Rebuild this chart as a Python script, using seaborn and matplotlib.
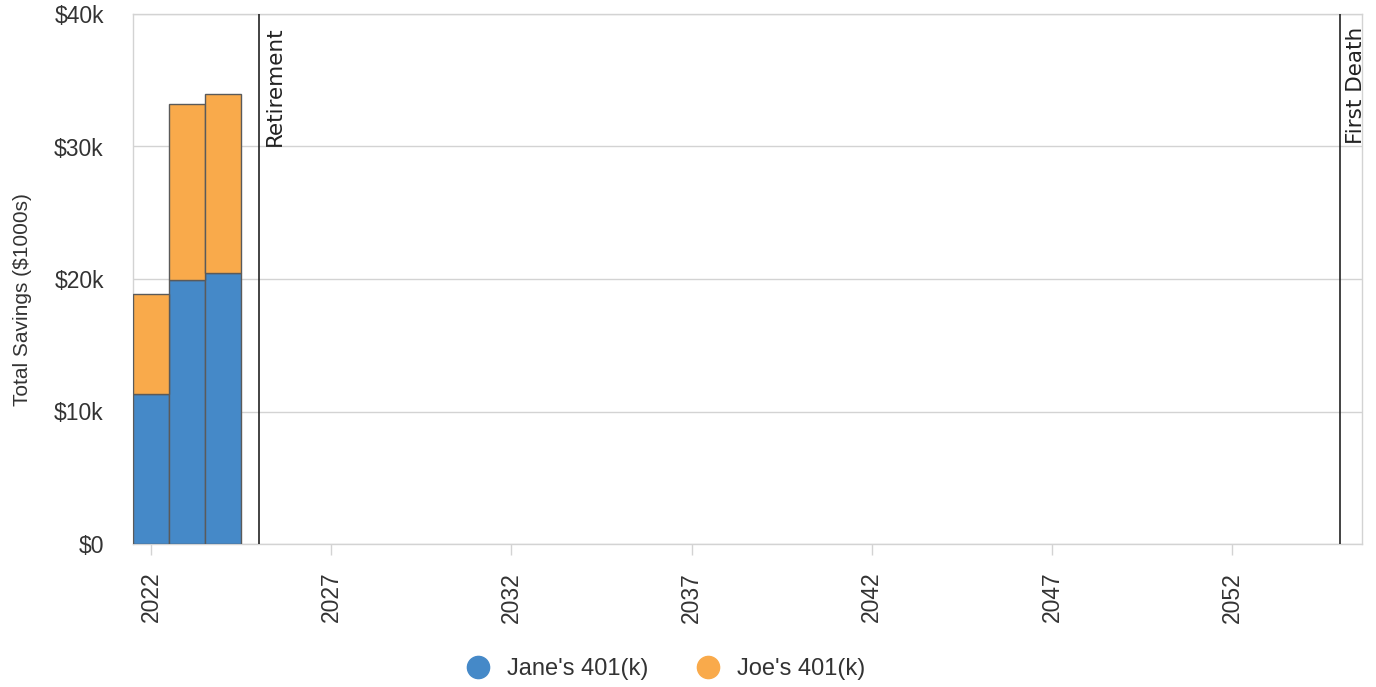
import matplotlib
matplotlib.use("Agg")
import matplotlib.pyplot as plt
from matplotlib.lines import Line2D
from matplotlib.ticker import FuncFormatter
import matplotlib.transforms as mtransforms
import numpy as np
import pandas as pd
import seaborn as sns

# Savings balances by year (dollars)
years = [2022, 2023, 2024]
jane_401k = [11300, 19950, 20450]
joe_401k = [7550, 13250, 13500]
accounts = ["Jane's 401(k)", "Joe's 401(k)"]
colors = ["#4589C8", "#F9AA4B"]

# Life events marked on the timeline
event_years = [2025, 2055]
event_labels = ["Retirement", "First Death"]

xtick_years = [2022, 2027, 2032, 2037, 2042, 2047, 2052]
ytick_values = [0, 10000, 20000, 30000, 40000]

df = pd.DataFrame({
    "year": years * 2,
    "value": jane_401k + joe_401k,
    "account": [accounts[0]] * len(years) + [accounts[1]] * len(years),
})

sns.set_theme(style="white")
plt.rcParams["font.family"] = ["Liberation Sans", "DejaVu Sans"]

fig = plt.figure(figsize=(13.76, 6.87), dpi=100)
ax = fig.add_axes([133 / 1376, 1 - 544 / 687, (1362 - 133) / 1376, (544 - 14) / 687])

sns.histplot(
    data=df, x="year", weights="value", hue="account",
    hue_order=accounts[::-1], palette=dict(zip(accounts, colors)),
    multiple="stack", discrete=True, shrink=1.0, alpha=1.0,
    edgecolor="#5a5a5a", linewidth=1.0, legend=False, ax=ax, zorder=3,
)

ax.set_xlim(2021.5, 2055.6)
ax.set_ylim(0, 40000)
ax.set_xticks(xtick_years)
ax.set_xticklabels([str(y) for y in xtick_years], rotation=90, va="top", ha="center")
ax.set_yticks(ytick_values)
ax.yaxis.set_major_formatter(FuncFormatter(lambda v, _: "$0" if v == 0 else f"${int(v/1000)}k"))

ax.grid(axis="y", color="#d3d3d3", linewidth=1.0, zorder=0)
ax.grid(axis="x", visible=False)
for s in ax.spines.values():
    s.set_color("#d3d3d3")
    s.set_linewidth(1.0)

ax.tick_params(axis="y", length=7, width=1, color="#d3d3d3", labelsize=16.5, labelcolor="#333333", pad=14)
ax.tick_params(axis="x", length=8, width=1, color="#d3d3d3", labelsize=16.5, labelcolor="#333333", pad=12, bottom=True)
ax.set_xlabel("")
ax.set_ylabel("Total Savings ($1000s)", fontsize=15, color="#333333")
ax.yaxis.set_label_coords(-0.082, 0.4604)

# Event markers with rotated labels
for yr, label in zip(event_years, event_labels):
    ax.axvline(yr, color="#222222", linewidth=1.2, zorder=4)
    off = mtransforms.offset_copy(ax.transData, fig=fig, x=4, y=-9, units="points")
    ax.text(yr, 40000, label, rotation=90, ha="left", va="top", fontsize=15.5,
            color="#222222", family=["DejaVu Sans"], transform=off, zorder=5)

handles = [Line2D([0], [0], marker="o", linestyle="", markersize=16,
                  markerfacecolor=c, markeredgecolor=c) for c in colors]
fig.legend(handles, accounts, loc="center", bbox_to_anchor=(660 / 1376, 1 - 669 / 687),
           ncol=2, frameon=False, fontsize=17, handletextpad=0.25, columnspacing=1.5,
           labelcolor="#333333")

fig.savefig("out.png", dpi=100)
